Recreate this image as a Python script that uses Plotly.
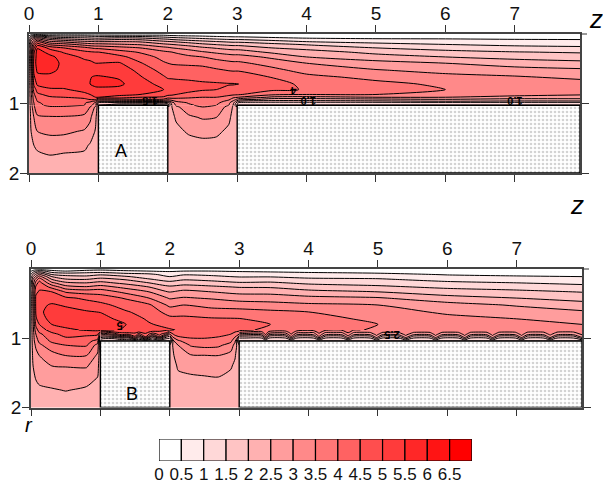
import plotly.graph_objects as go

# ---------- levels / legend ----------
legend_levels = [0,.5,1,1.5,2,2.5,3,3.5,4,4.5,5,5.5,6,6.5]
legend_labels = ["0","0.5","1","1.5","2","2.5","3","3.5","4","4.5","5","5.5","6","6.5"]
z_ticks = [0,1,2,3,4,5,6,7]
r_ticks = [1,2]
block_start = [1,3]
block_end = [2,7.94]
wall_a = 1.025
wall_b = 1.04
bottom_r = 2

# ---------- panel A ----------
a_x = [0,.03,.07,.12,.3,.5,.8,.88,.96,1,1.3,1.6,1.94,2,2.06,2.12,2.3,2.5,2.7,2.88,2.94,3.02,3.5,4,5,6,7,7.94]
a_r = [0,.015,.03,.05,.08,.11,.15,.2,.26,.33,.42,.52,.62,.72,.8,.87,.91,.94,.97,.99,1.025]
a_cols = [
 [0,.3,.55,.85,1.2,1.5,1.8,2,2.15,2.2,2.2,2.2,2.2,2.2,2.2,2.2,2.2,2.2,2.2,2.2,2.2],
 [0,.6,1.05,1.6,2.2,2.6,2.9,3.1,3.2,3.2,3.2,3.1,3,3,2.9,2.9,2.8,2.8,2.8,2.8,2.75],
 [0,.8,1.3,2,2.8,3.3,3.9,4.4,4.9,5,5.2,5.1,4.9,4.6,4.2,3.9,3.8,3.7,3.6,3.5,3.45],
 [0,.9,1.6,2.4,3.3,4,4.8,5.45,5.75,5.8,5.75,5.6,5.35,5.1,4.7,4.4,4.2,4.1,4,3.95,3.9],
 [0,.6,1.15,1.75,2.5,3.1,3.9,4.85,5.3,5.65,5.8,5.6,5.4,5.15,4.95,4.65,4.45,4.35,4.25,4.15,4.1],
 [0,.6,1,1.5,2.25,2.9,3.7,4.5,4.95,5.25,5.35,5.4,5.35,5.2,4.95,4.65,4.5,4.35,4.25,4.15,4.1],
 [0,.55,1,1.4,2,2.6,3.3,4.15,4.6,4.9,5.15,5.3,5.4,5.4,5.15,4.9,4.65,4.4,4.2,4.05,4],
 [0,.52,.95,1.35,1.95,2.55,3.2,4,4.55,4.85,5.1,5.3,5.48,5.5,5.28,5,4.85,4.55,4.1,3.85,3.7],
 [0,.5,.9,1.3,1.9,2.5,3.15,3.9,4.5,4.75,5,5.3,5.55,5.6,5.4,5.15,5,4.6,3.8,3.4,3.2],
 [0,.5,.9,1.3,1.9,2.5,3.15,3.9,4.5,4.75,5,5.3,5.55,5.62,5.4,5.15,5,3.9,3,2,1.5],
 [0,.47,.9,1.4,2,2.5,3.05,3.7,4.2,4.65,5.05,5.3,5.45,5.6,5.35,5.1,4.85,3.9,3,2,1],
 [0,.45,.85,1.35,1.95,2.45,2.95,3.5,3.95,4.25,4.55,4.85,5.05,5.2,5.25,5,4.5,4,3,1.9,1],
 [0,.45,.75,1.1,1.65,2.1,2.6,3.15,3.6,3.85,4.05,4.3,4.55,4.85,5,4.7,4.45,3.95,3,1.9,1],
 [0,.4,.7,1.05,1.6,2.05,2.55,3.1,3.55,3.75,4,4.25,4.45,4.7,4.9,4.65,4.2,3.7,2.8,1.8,1],
 [0,.35,.65,1,1.5,2,2.5,3,3.5,3.7,3.95,4.25,4.45,4.65,4.85,4.6,4.2,3.8,3.2,2.8,2.5],
 [0,.33,.62,.97,1.45,1.95,2.45,2.95,3.45,3.68,3.93,4.24,4.44,4.63,4.8,4.5,4.1,3.9,3.5,3.2,3.1],
 [0,.29,.56,.88,1.32,1.8,2.3,2.8,3.25,3.6,3.9,4.22,4.42,4.6,4.68,4.35,4.05,3.9,3.7,3.55,3.4],
 [0,.25,.5,.8,1.2,1.65,2.1,2.6,3.05,3.5,3.85,4.2,4.4,4.55,4.55,4.25,4,3.9,3.8,3.7,3.65],
 [0,.21,.43,.7,1.1,1.52,1.97,2.45,2.9,3.35,3.72,4.07,4.35,4.54,4.5,4.2,4,3.85,3.75,3.65,3.5],
 [0,.19,.39,.64,1.02,1.43,1.88,2.33,2.78,3.23,3.63,3.97,4.31,4.52,4.42,4.12,3.8,3.6,3.3,3.1,3],
 [0,.18,.37,.62,1,1.4,1.85,2.3,2.75,3.2,3.6,3.95,4.3,4.52,4.4,4.1,3.6,3.3,2.9,2.7,2.5],
 [0,.18,.37,.62,1,1.4,1.85,2.3,2.75,3.2,3.6,3.95,4.3,4.5,4.35,4.05,3.5,2.8,2,1.4,1],
 [0,.15,.3,.5,.85,1.2,1.65,2,2.4,2.9,3.3,3.65,3.98,4.2,4.1,3.6,2.9,2.3,1.8,1.3,1],
 [0,.12,.25,.4,.7,1,1.45,1.85,2.2,2.5,3,3.3,3.65,3.88,3.97,3.5,2.85,2.3,1.8,1.3,1],
 [0,.1,.22,.36,.6,.85,1.15,1.5,1.87,2.2,2.7,3.03,3.35,3.65,3.85,3.5,3,2.4,1.85,1.3,1],
 [0,.1,.22,.36,.57,.75,1,1.3,1.65,2,2.5,2.85,3.15,3.4,3.5,3.2,3,2.5,1.95,1.3,1],
 [0,.1,.2,.33,.52,.68,.9,1.15,1.52,1.85,2.25,2.72,3.05,3.35,3.45,3.15,2.85,2.35,1.9,1.3,1],
 [0,.1,.2,.3,.5,.65,.85,1.1,1.45,1.75,2.15,2.6,2.9,3.2,3.35,3.05,2.75,2.4,1.9,1.3,1],
]
a_ch_r = [1.025,1.05,1.2,1.4,1.6,1.8,2]
a_ch1_x = [0,.03,.07,.12,.3,.5,.8,.88,.96,1]
a_ch1_cols = [
 [2.2,2.2,2.2,2.2,2.2,2.2,2.2],
 [2.75,2.7,2.6,2.5,2.35,2.25,2.2],
 [3.45,3.4,3,2.8,2.5,2.3,2.2],
 [3.9,3.85,3.4,3,2.6,2.35,2.25],
 [4.1,3.95,3.45,3.1,2.75,2.4,2.25],
 [4.1,3.95,3.45,3.1,2.7,2.35,2.25],
 [4,3.85,3.35,2.95,2.6,2.35,2.25],
 [3.7,3.5,3.1,2.8,2.45,2.3,2.22],
 [3.2,2.9,2.6,2.45,2.3,2.2,2.2],
 [1.5,2.05,2.05,2.05,2.05,2.05,2.05],
]
a_ch2_x = [2,2.06,2.12,2.3,2.5,2.7,2.88,2.94,3]
a_ch2_cols = [
 [1,2.05,2.05,2.05,2.05,2.05,2.05],
 [2.5,2.5,2.4,2.3,2.2,2.2,2.2],
 [3.1,2.9,2.55,2.4,2.3,2.2,2.2],
 [3.4,3.3,2.9,2.55,2.35,2.2,2.2],
 [3.65,3.5,3.05,2.65,2.35,2.2,2.2],
 [3.5,3.3,3,2.6,2.35,2.2,2.2],
 [3,2.85,2.6,2.4,2.3,2.2,2.2],
 [2.5,2.45,2.35,2.3,2.2,2.2,2.2],
 [1,2.05,2.05,2.05,2.05,2.05,2.05],
]

# ---------- panel B ----------
b_x = [0,.03,.07,.12,.3,.5,.8,1,1.37,1.7,2,2.2,2.6,3,3.45,4,5,6,7,7.94]
b_r = [0,.015,.03,.05,.08,.11,.15,.2,.26,.33,.42,.52,.62,.72,.8,.88]
b_cols = [
 [0,.25,.45,.7,1,1.3,1.6,1.85,2,2.1,2.2,2.2,2.2,2.2,2.2,2.2],
 [0,.4,.7,1.1,1.6,2,2.5,2.8,3,3.1,3.1,3.1,3,3,2.9,2.85],
 [0,.6,1,1.5,2.1,2.6,3.2,3.7,4.1,4.4,4.6,4.6,4.55,4.4,4.1,3.8],
 [0,.7,1.2,1.8,2.6,3.2,3.8,4.2,4.4,4.55,4.75,4.9,4.9,4.8,4.5,4.2],
 [0,.35,.75,1,1.5,2,2.5,3.1,3.85,4.5,4.8,5.05,5.2,5.15,5,4.75],
 [0,.25,.5,.85,1.35,1.65,2.05,2.6,3.2,3.95,4.6,4.95,5.15,5.28,5.15,4.9],
 [0,.4,.75,.95,1.3,1.6,2,2.5,3.05,3.8,4.4,4.75,5.05,5.15,5.15,5.06],
 [0,.5,.71,1,1.45,1.75,2.2,2.65,3.2,3.8,4.25,4.65,4.98,5.2,5.22,5.15],
 [0,.35,.6,.85,1.2,1.55,1.95,2.35,2.85,3.35,3.95,4.28,4.55,4.8,5,4.95],
 [0,.25,.5,.8,1.1,1.27,1.55,2,2.5,3,3.5,4.08,4.28,4.42,4.55,4.7],
 [0,.2,.42,.65,.85,1,1.3,1.65,2.1,2.47,2.95,3.38,3.8,4.13,4.33,4.55],
 [0,.25,.5,.75,.97,1.15,1.45,1.8,2.2,2.65,3.05,3.5,3.85,4.1,4.3,4.42],
 [0,.25,.5,.72,.93,1.07,1.35,1.7,2.1,2.5,2.95,3.35,3.7,4.05,4.35,4.3],
 [0,.2,.42,.65,.83,.97,1.2,1.55,1.97,2.35,2.8,3.25,3.7,4.02,4.3,4.2],
 [0,.18,.37,.58,.75,.97,1.25,1.57,1.95,2.35,2.75,3.2,3.6,3.85,4,3.8],
 [0,.15,.3,.5,.7,.88,1.1,1.4,1.75,2.15,2.65,3.1,3.5,3.75,3.85,3.7],
 [0,.13,.25,.42,.65,.85,1.05,1.3,1.6,2,2.55,3,3.18,3.35,3.5,3.45],
 [0,.09,.18,.3,.47,.63,.85,1.1,1.4,1.75,2.18,2.7,2.93,3.12,3.25,3.35],
 [0,.08,.15,.25,.4,.55,.75,1,1.3,1.62,2,2.45,2.75,3,3.15,3.25],
 [0,.07,.14,.23,.36,.5,.67,.89,1.16,1.48,1.82,2.2,2.57,2.8,3,3.15],
]
b_ch_r = [.88,.94,1.04,1.1,1.25,1.4,1.6,1.75,1.9,2]
b_ch1_x = [0,.03,.07,.12,.3,.5,.8,.96,1]
b_ch1_cols = [
 [2.2,2.2,2.2,2.2,2.2,2.2,2.2,2.2,2.2,2.2],
 [2.85,2.8,2.75,2.7,2.6,2.5,2.4,2.3,2.2,2.2],
 [3.8,3.5,3.3,3.1,2.8,2.65,2.5,2.35,2.25,2.2],
 [4.2,3.9,3.6,3.4,3,2.8,2.6,2.4,2.25,2.2],
 [4.75,4.35,4.1,3.8,3.3,3,2.7,2.45,2.25,2.2],
 [4.9,4.7,4.25,4,3.5,3.02,2.75,2.52,2.3,2.25],
 [5.06,4.6,4.2,4.05,3.5,3.05,2.65,2.42,2.28,2.22],
 [5.1,4.6,3.8,3.3,2.9,2.7,2.45,2.3,2.2,2.2],
 [5.1,3.5,1,2.05,2.05,2.05,2.05,2.05,2.05,2.05],
]
b_ch2_x = [2,2.06,2.12,2.3,2.5,2.7,2.88,2.94,3]
b_ch2_cols = [
 [4.55,3.5,1,2.05,2.05,2.05,2.05,2.05,2.05,2.05],
 [4.5,4.1,3,2.7,2.5,2.4,2.3,2.25,2.2,2.2],
 [4.45,4.3,3.4,3,2.65,2.55,2.4,2.3,2.2,2.2],
 [4.4,4.2,3.85,3.55,2.95,2.65,2.4,2.3,2.25,2.2],
 [4.3,4.15,3.9,3.65,2.98,2.7,2.42,2.3,2.25,2.2],
 [4.25,4.1,3.85,3.6,3,2.7,2.45,2.3,2.25,2.2],
 [4.2,4,3.6,3.3,2.8,2.55,2.35,2.25,2.2,2.2],
 [4.2,3.8,3.1,2.8,2.55,2.4,2.3,2.25,2.2,2.2],
 [4.2,3.5,1,2.05,2.05,2.05,2.05,2.05,2.05,2.05],
]
b_s1_x = [1,1.04,1.2,1.3,1.4,1.5,1.55,1.65,1.75,1.85,1.95,2]
b_s1_r = [.88,.91,.94,.97,1,1.04]
b_s1_cols = [
 [5.15,4.2,3.4,2.6,1.8,1],
 [5.12,4,3.2,2.4,1.6,1],
 [5,4.5,3.6,2.6,1.6,1],
 [5,4.6,4.3,3.2,2,1],
 [4.95,4.7,4.1,3,1.8,1],
 [4.85,4.6,4.4,4.1,3,1],
 [4.8,4.5,3.8,2.8,1.8,1],
 [4.75,4.6,4.45,4.3,3,1],
 [4.7,4.4,3.6,2.6,1.7,1],
 [4.6,4.45,4.2,3.8,2.5,1],
 [4.55,4.3,3.4,2.4,1.6,1],
 [4.55,3.6,2.6,2,1.5,1],
]
b_s2_x = [3,3.08,3.32,3.38,3.43,3.67,3.75,3.83,4.07,4.15,4.24,4.48,4.57,4.65,4.89,4.98,5.06,5.3,5.4,5.51,
          5.75,5.83,5.92,6.16,6.25,6.33,6.57,6.65,6.74,6.98,7.07,7.15,7.39,7.48,7.58,7.82,7.94]
b_s2_r = [.88,.92,.95,.98,1.04]
b_s2_cols = [
 [4.2,3.4,2.6,1.7,1],[4.12,3.3,2.5,1.7,1],[3.9,3.2,2.5,1.7,1],[3.87,3.8,3.5,3,1],[3.85,3.2,2.5,1.7,1],
 [3.78,3.1,2.5,1.7,1],[3.76,3.7,3.4,2.9,1],[3.74,3.05,2.5,1.7,1],[3.68,2.95,2.5,1.7,1],[3.66,3.6,3.3,2.9,1],
 [3.63,2.95,2.5,1.7,1],[3.56,2.95,2.5,1.7,1],[3.54,3.5,3.2,2.8,1],[3.52,2.95,2.5,1.7,1],[3.47,2.95,2.5,1.7,1],
 [3.46,3.44,3.1,2.8,1],[3.45,2.95,2.5,1.7,1],[3.42,2.95,2.5,1.7,1],[3.41,3.39,3.1,2.8,1],[3.4,2.95,2.5,1.7,1],
 [3.37,2.95,2.5,1.7,1],[3.36,3.34,3.1,2.8,1],[3.35,2.95,2.5,1.7,1],[3.33,2.95,2.5,1.7,1],[3.32,3.3,3.1,2.8,1],
 [3.31,2.95,2.5,1.7,1],[3.28,2.95,2.5,1.7,1],[3.27,3.25,3.1,2.8,1],[3.26,2.95,2.5,1.7,1],[3.24,2.95,2.5,1.7,1],
 [3.23,3.21,3.1,2.8,1],[3.22,2.95,2.5,1.7,1],[3.2,2.95,2.5,1.7,1],[3.19,3.17,3.05,2.8,1],[3.18,2.95,2.5,1.7,1],
 [3.16,2.95,2.5,1.7,1],[3.15,3.13,3,2.7,1],
]

def rows(cols):
    return [list(v) for v in zip(*cols)]

scale = [[0,"#ffffff"],[1,"#ff0000"]]
fig = go.Figure()

def field(xs, rs, cols, xa, ya):
    fig.add_trace(go.Contour(
        x=xs, y=rs, z=rows(cols), xaxis=xa, yaxis=ya, showscale=False,
        autocontour=False, colorscale=scale, hoverinfo="skip",
        contours=dict(start=.5, end=6.5, size=.5, coloring="fill"),
        line=dict(color="black", width=1, smoothing=.7)))

def blocks(xa, ya, wall):
    fig.add_trace(go.Bar(
        x=[(s+e)/2 for s,e in zip(block_start, block_end)],
        width=[e-s for s,e in zip(block_start, block_end)],
        y=[bottom_r-wall for _ in block_start], base=[wall for _ in block_start],
        xaxis=xa, yaxis=ya, showlegend=False, hoverinfo="skip",
        marker=dict(color="white", line=dict(color="black", width=1.4),
                    pattern=dict(shape=".", fgcolor="#a8a8a8", bgcolor="white", size=4, solidity=.35))))

field(a_x, a_r, a_cols, "x", "y")
field(a_ch1_x, a_ch_r, a_ch1_cols, "x", "y")
field(a_ch2_x, a_ch_r, a_ch2_cols, "x", "y")
blocks("x", "y", wall_a)

field(b_x, b_r, b_cols, "x2", "y2")
field(b_ch1_x, b_ch_r, b_ch1_cols, "x2", "y2")
field(b_ch2_x, b_ch_r, b_ch2_cols, "x2", "y2")
field(b_s1_x, b_s1_r, b_s1_cols, "x2", "y2")
field(b_s2_x, b_s2_r, b_s2_cols, "x2", "y2")
blocks("x2", "y2", wall_b)

fig.add_trace(go.Bar(
    x=[v+.25 for v in legend_levels], y=[1 for _ in legend_levels], width=.5,
    xaxis="x3", yaxis="y3", showlegend=False, hoverinfo="skip",
    marker=dict(color=legend_levels, colorscale=scale, cmin=0, cmax=6.5,
                line=dict(color="black", width=1.2))))

FONT = "Liberation Sans, Arial, sans-serif"
W, H = 603, 488
def xdom(l, r): return [l/W, r/W]
def ydom(t, b): return [1-b/H, 1-t/H]

axis_common = dict(showline=True, linecolor="#444", linewidth=1.5, mirror="ticks",
                   ticks="outside", ticklen=7, tickwidth=1, tickcolor="#333",
                   showgrid=False, zeroline=False, tickfont=dict(family=FONT, size=19, color="#111"))
fig.update_layout(
    width=W, height=H, margin=dict(l=0,r=0,t=0,b=0,autoexpand=False), paper_bgcolor="white", plot_bgcolor="white",
    barmode="overlay", showlegend=False,
    xaxis=dict(domain=xdom(29,580), range=[0,7.94], side="top", tickvals=z_ticks, anchor="y", ticklabelstandoff=-2, **axis_common),
    yaxis=dict(domain=ydom(34,173), range=[2,0], tickvals=r_ticks, anchor="x", ticklabelstandoff=-3, **axis_common),
    xaxis2=dict(domain=xdom(31,582), range=[0,7.94], side="top", tickvals=z_ticks, anchor="y2", ticklabelstandoff=-2, **axis_common),
    yaxis2=dict(domain=ydom(269,407.5), range=[2,0], tickvals=r_ticks, anchor="x2", ticklabelstandoff=-3, **axis_common),
    xaxis3=dict(domain=xdom(159,472), range=[0,7], tickvals=legend_levels, ticktext=legend_labels,
                ticks="outside", ticklen=1, tickcolor="rgba(0,0,0,0)", showgrid=False, zeroline=False,
                tickangle=0, showline=False, anchor="y3", ticklabelstandoff=-3,
                tickfont=dict(family=FONT, size=17, color="#111")),
    yaxis3=dict(domain=ydom(439,461), range=[0,1], visible=False, anchor="x3"),
)

def note(text, x, y, xref, yref, size, **kw):
    fig.add_annotation(text=text, x=x, y=y, xref=xref, yref=yref, showarrow=False,
                       xanchor="center", yanchor="middle",
                       font=dict(family=FONT, size=size, color="black"), **kw)

note("A", 1.33, 1.68, "x", "y", 18)
note("B", 1.45, 1.8, "x2", "y2", 18)
note("<i>z</i>", 596/W, 1-19/H, "paper", "paper", 26)
note("<i>z</i>", 577/W, 1-205/H, "paper", "paper", 26)
note("<i>r</i>", 29/W, 1-425/H, "paper", "paper", 20)
# rotated contour labels as they appear in the source figure
for txt, x, y, xa, ya in [
    ("4", 3.8, .82, "x", "y"), ("1.0", 4.02, .965, "x", "y"), ("1.0", 7.0, .965, "x", "y"),
    ("1.5", 1.74, .965, "x", "y"),
    ("5", 1.28, .82, "x2", "y2"), ("2.5", 5.2, .95, "x2", "y2")]:
    note("<b>"+txt+"</b>", x, y, xa, ya, 11, textangle=180)

# corner ticks on the right of each frame
for px, py in [(580,34),(582,269)]:
    fig.add_shape(type="line", xref="paper", yref="paper", x0=px/W, x1=(px+7)/W,
                  y0=1-py/H, y1=1-py/H, line=dict(color="#333", width=1))

fig.write_html("out.html", config={"displayModeBar": False},
               post_script="document.body.style.margin='0';document.documentElement.style.overflow='hidden';")
